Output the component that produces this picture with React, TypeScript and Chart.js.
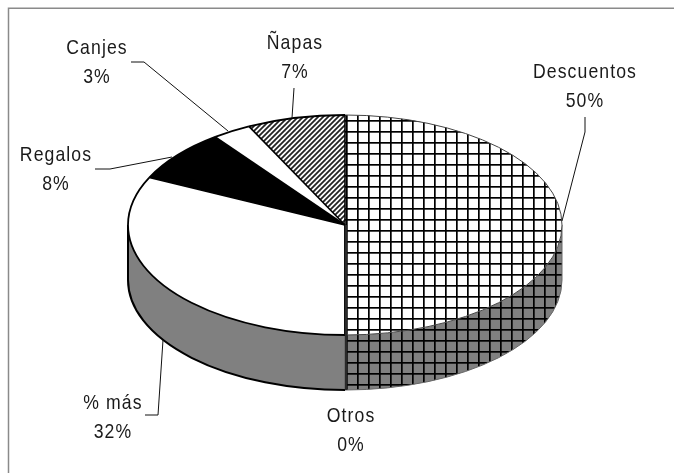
import React, { useEffect, useRef } from "react";
import { Chart, registerables } from "chart.js";

Chart.register(...registerables);

const categories = ["Descuentos", "Otros", "% más", "Regalos", "Canjes", "Ñapas"];
const shares = [50, 0, 32.1, 7.7, 2.9, 7.3];

// label block centres (x, first line y), in category order
const labelAnchors = [
  [585, 72],
  [351, 416],
  [113, 403],
  [56, 155],
  [97, 48],
  [295, 43],
];
// leader-line polylines, in category order
const leaders = [
  [[585, 117], [585, 132], [562, 221]],
  [],
  [[145, 415], [158, 415], [163, 340]],
  [[95, 169], [110, 169], [172, 157]],
  [[131, 62], [144, 62], [228, 131]],
  [[294, 88], [292, 118]],
];

const W = 674;
const H = 473;
const CX = 345;
const CY = 225;
const RY = 110;
const DEPTH = 55;

function gridPattern(ctx: CanvasRenderingContext2D, bg: string) {
  const c = document.createElement("canvas");
  c.width = 11;
  c.height = 11;
  const g = c.getContext("2d")!;
  g.fillStyle = bg;
  g.fillRect(0, 0, 11, 11);
  g.fillStyle = "#000";
  g.fillRect(5, 0, 1.7, 11);
  g.fillRect(0, 10, 11, 1);
  g.fillRect(0, 0, 11, 0.7);
  return ctx.createPattern(c, "repeat")!;
}

function hatchPattern(ctx: CanvasRenderingContext2D) {
  const c = document.createElement("canvas");
  c.width = 5;
  c.height = 5;
  const g = c.getContext("2d")!;
  g.fillStyle = "#fff";
  g.fillRect(0, 0, 5, 5);
  g.strokeStyle = "#222";
  g.lineWidth = 1.75;
  for (const o of [-5, 0, 5]) {
    g.beginPath();
    g.moveTo(o - 1, 6);
    g.lineTo(o + 6, -1);
    g.stroke();
  }
  return ctx.createPattern(c, "repeat")!;
}

export default function App() {
  const ref = useRef<HTMLCanvasElement>(null);

  useEffect(() => {
    document.body.style.margin = "0";
    document.body.style.overflow = "hidden";
    const canvas = ref.current!;
    const ctx = canvas.getContext("2d")!;
    const topGrid = gridPattern(ctx, "#fff");
    const sideGrid = gridPattern(ctx, "#808080");
    const hatch = hatchPattern(ctx);
    const topFills: (string | CanvasPattern)[] = [topGrid, "#fff", "#fff", "#000", "#fff", hatch];
    const sideFills: (string | CanvasPattern)[] = [sideGrid, "#808080", "#808080", "#808080", "#808080", "#808080"];

    const arcsOf = (chart: any) => chart.getDatasetMeta(0).data as any[];

    const pie3d = {
      id: "pie3d",
      beforeDatasetsDraw(chart: any) {
        const c = chart.ctx as CanvasRenderingContext2D;
        const arcs = arcsOf(chart);
        const a0 = arcs[0];
        const rx = a0.outerRadius;
        const s = RY / rx;
        const m = new DOMMatrix().translate(CX, CY).scale(1, s).translate(-a0.x, -a0.y);
        topGrid.setTransform(m.inverse());
        hatch.setTransform(m.inverse());

        // frame
        c.save();
        c.strokeStyle = "#8a8a8a";
        c.lineWidth = 1.5;
        c.beginPath();
        c.moveTo(8.5, H);
        c.lineTo(8.5, 8.2);
        c.lineTo(W, 8.2);
        c.stroke();

        // side walls of the front half (canvas angles 0..PI)
        arcs.forEach((arc: any, i: number) => {
          const from = Math.max(arc.startAngle, 0);
          const to = Math.min(arc.endAngle, Math.PI);
          if (to - from <= 0.001) return;
          c.beginPath();
          c.ellipse(CX, CY, rx, RY, 0, from, to);
          c.ellipse(CX, CY + DEPTH, rx, RY, 0, to, from, true);
          c.closePath();
          c.fillStyle = sideFills[i];
          c.fill();
          c.strokeStyle = i === 0 ? "#666" : "#000";
          c.lineWidth = i === 0 ? 1 : 2;
          c.beginPath();
          c.ellipse(CX, CY + DEPTH, rx, RY, 0, from, to);
          c.stroke();
          // outer vertical silhouette edge
          const xEdge = i === 0 ? CX + rx : CX - rx;
          const atEdge = i === 0 ? from === 0 : to === Math.PI;
          if (atEdge) {
            c.beginPath();
            c.moveTo(xEdge, CY);
            c.lineTo(xEdge, CY + DEPTH);
            c.stroke();
          }
        });
        c.restore();

        // squash the pie into its tilted ellipse
        c.save();
        c.translate(CX, CY);
        c.scale(1, s);
        c.translate(-a0.x, -a0.y);
      },
      afterDatasetsDraw(chart: any) {
        const c = chart.ctx as CanvasRenderingContext2D;
        c.restore();
        const arcs = arcsOf(chart);
        const rx = arcs[0].outerRadius;
        c.save();
        c.lineJoin = "round";
        arcs.forEach((arc: any, i: number) => {
          const thin = i === 0;
          c.strokeStyle = thin ? "#444" : "#000";
          c.lineWidth = thin ? 1 : 1.8;
          c.beginPath();
          c.ellipse(CX, CY, rx, RY, 0, arc.startAngle, arc.endAngle);
          c.stroke();
        });
        // radial edges
        arcs.forEach((arc: any) => {
          c.strokeStyle = "#000";
          c.lineWidth = 1.6;
          c.beginPath();
          c.moveTo(CX, CY);
          c.lineTo(CX + rx * Math.cos(arc.startAngle), CY + RY * Math.sin(arc.startAngle));
          c.stroke();
        });
        // the empty "Otros" slice shows as a heavy line through the front
        c.strokeStyle = "#2a2a2a";
        c.lineWidth = 2.4;
        c.beginPath();
        c.moveTo(CX + 1, CY);
        c.lineTo(CX + 1, CY + RY + DEPTH);
        c.stroke();

        // leaders
        c.strokeStyle = "#111";
        c.lineWidth = 1;
        leaders.forEach((pts) => {
          if (!pts.length) return;
          c.beginPath();
          pts.forEach(([x, y], j) => (j ? c.lineTo(x, y) : c.moveTo(x, y)));
          c.stroke();
        });

        // labels: a condensed, loosely spaced sans
        c.fillStyle = "#1a1a1a";
        c.textAlign = "center";
        c.textBaseline = "middle";
        c.font = '21px "Liberation Sans"';
        (c as any).letterSpacing = "1.3px";
        const sx = 0.84;
        categories.forEach((name, i) => {
          const [x, y] = labelAnchors[i];
          c.save();
          c.translate(x, y);
          c.scale(sx, 1);
          c.fillText(name, 0, 0);
          c.fillText(`${Math.round(shares[i])}%`, 0, 29);
          c.restore();
        });
        c.restore();
      },
    };

    const chart = new Chart(canvas, {
      type: "pie",
      data: {
        labels: categories,
        datasets: [
          {
            data: shares,
            backgroundColor: topFills as any,
            borderWidth: 0,
            clip: false,
          } as any,
        ],
      },
      options: {
        responsive: false,
        animation: false,
        events: [],
        layout: { padding: { left: 128, right: 112, top: 10, bottom: 29 } },
        plugins: { legend: { display: false }, tooltip: { enabled: false } },
      },
      plugins: [pie3d],
    });
    return () => chart.destroy();
  }, []);

  return <canvas ref={ref} width={W} height={H} style={{ display: "block", width: W, height: H }} />;
}
